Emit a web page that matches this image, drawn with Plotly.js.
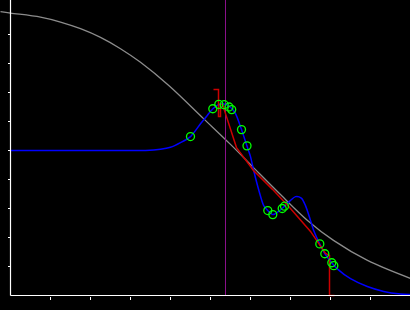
<!DOCTYPE html>
<html>
<head>
<meta charset="utf-8">
<script src="https://cdn.plot.ly/plotly-3.0.1.min.js"></script>
<style>html,body{margin:0;padding:0;background:#000;}#chart{width:410px;height:310px;}</style>
</head>
<body>
<div id="chart"></div>
<script>
// Gray prior curve
const priorX = [-0.25, 0, 0.75, 1.25, 1.75, 2.25, 2.75, 3.25, 3.95, 4.825, 5.5, 6.075, 6.75, 7.425, 8.075, 8.925, 10];
const priorY = [9.79, 9.74, 9.60, 9.43, 9.20, 8.90, 8.51, 8.04, 7.25, 6.10, 5.21, 4.41, 3.48, 2.59, 1.90, 1.21, 0.59];

// Blue fitted curve
const fitX = [0, 1.5, 3.0, 3.375, 3.75, 4.0, 4.25, 4.5, 4.75, 4.92, 5.06, 5.21, 5.34, 5.5, 5.625, 5.775, 5.91, 6.0, 6.08, 6.21, 6.33, 6.43, 6.56, 6.67, 6.79, 6.85, 7.0, 7.125, 7.27, 7.375, 7.5, 7.58, 7.73, 7.86, 8.03, 8.17, 8.5, 8.92, 9.33, 9.75, 10];
const fitY = [5.0, 5.0, 5.0, 5.0, 5.04, 5.11, 5.27, 5.48, 5.92, 6.21, 6.44, 6.59, 6.60, 6.49, 6.27, 5.72, 5.16, 4.79, 4.31, 3.62, 3.10, 2.93, 2.79, 2.87, 3.0, 3.08, 3.28, 3.41, 3.36, 3.10, 2.59, 2.24, 1.78, 1.44, 1.13, 0.92, 0.58, 0.31, 0.14, 0.05, 0.03];

// Red piecewise line
const stepX = [5.075, 5.2, 5.2, 5.25, 5.25, 5.3, 5.65, 6.075, 6.55, 7.0, 7.5, 7.875, 7.975, 7.975, 8.1];
const stepY = [7.10, 7.10, 6.17, 6.17, 6.59, 6.59, 5.10, 4.31, 3.66, 3.0, 2.21, 1.45, 1.38, 0, 0];

// Green observations
const obsX = [4.5, 5.0575, 5.2075, 5.3425, 5.4625, 5.53, 5.775, 5.9125, 6.4325, 6.5575, 6.7925, 6.85, 7.7325, 7.8575, 8.0325, 8.0825];
const obsY = [5.48, 6.44, 6.59, 6.58, 6.50, 6.41, 5.72, 5.16, 2.93, 2.79, 3.0, 3.08, 1.78, 1.44, 1.13, 1.03];

// Vertical marker line
const vlineX = 5.375;

const tickVals = [1, 2, 3, 4, 5, 6, 7, 8, 9];

const xRange = [-0.2625, 9.9875];
const yRange = [-0.5, 10.1897];

const traces = [
  {x: priorX, y: priorY, mode: 'lines', line: {color: '#8c8c8c', width: 1.3, shape: 'spline'}, hoverinfo: 'skip'},
  {x: [vlineX, vlineX], y: [0, yRange[1]], mode: 'lines', line: {color: '#8a108a', width: 1}, hoverinfo: 'skip'},
  {x: fitX, y: fitY, mode: 'lines', line: {color: '#0000ff', width: 1.5, shape: 'spline', smoothing: 0.8}, hoverinfo: 'skip'},
  {x: stepX, y: stepY, mode: 'lines', line: {color: '#cc0000', width: 1.5}, hoverinfo: 'skip'},
  {x: obsX, y: obsY, mode: 'markers', marker: {symbol: 'circle-open', color: '#00ff00', size: 8, line: {width: 1.3, color: '#00ff00'}}, hoverinfo: 'skip'}
];

const layout = {
  width: 410, height: 310,
  margin: {l: 0, r: 0, t: 0, b: 0, pad: 0},
  paper_bgcolor: '#000', plot_bgcolor: '#000',
  showlegend: false,
  xaxis: {range: xRange, showgrid: false, zeroline: false, showline: false,
    tickvals: tickVals, ticks: 'outside', ticklen: 3, tickwidth: 1, tickcolor: '#fff',
    showticklabels: false, anchor: 'free', position: 14.5/310, fixedrange: true},
  yaxis: {range: yRange, showgrid: false, zeroline: false, showline: false,
    tickvals: tickVals, ticks: 'outside', ticklen: 3, tickwidth: 1, tickcolor: '#fff',
    showticklabels: false, anchor: 'free', position: 10.5/410, fixedrange: true},
  shapes: [
    {type: 'line', xref: 'x', yref: 'y', x0: 0, x1: 0, y0: 0, y1: yRange[1], line: {color: '#fff', width: 1.2}},
    {type: 'line', xref: 'x', yref: 'y', x0: 0, x1: xRange[1], y0: 0, y1: 0, line: {color: '#fff', width: 1.2}}
  ]
};

Plotly.newPlot('chart', traces, layout, {staticPlot: true, displayModeBar: false});
</script>
</body>
</html>
